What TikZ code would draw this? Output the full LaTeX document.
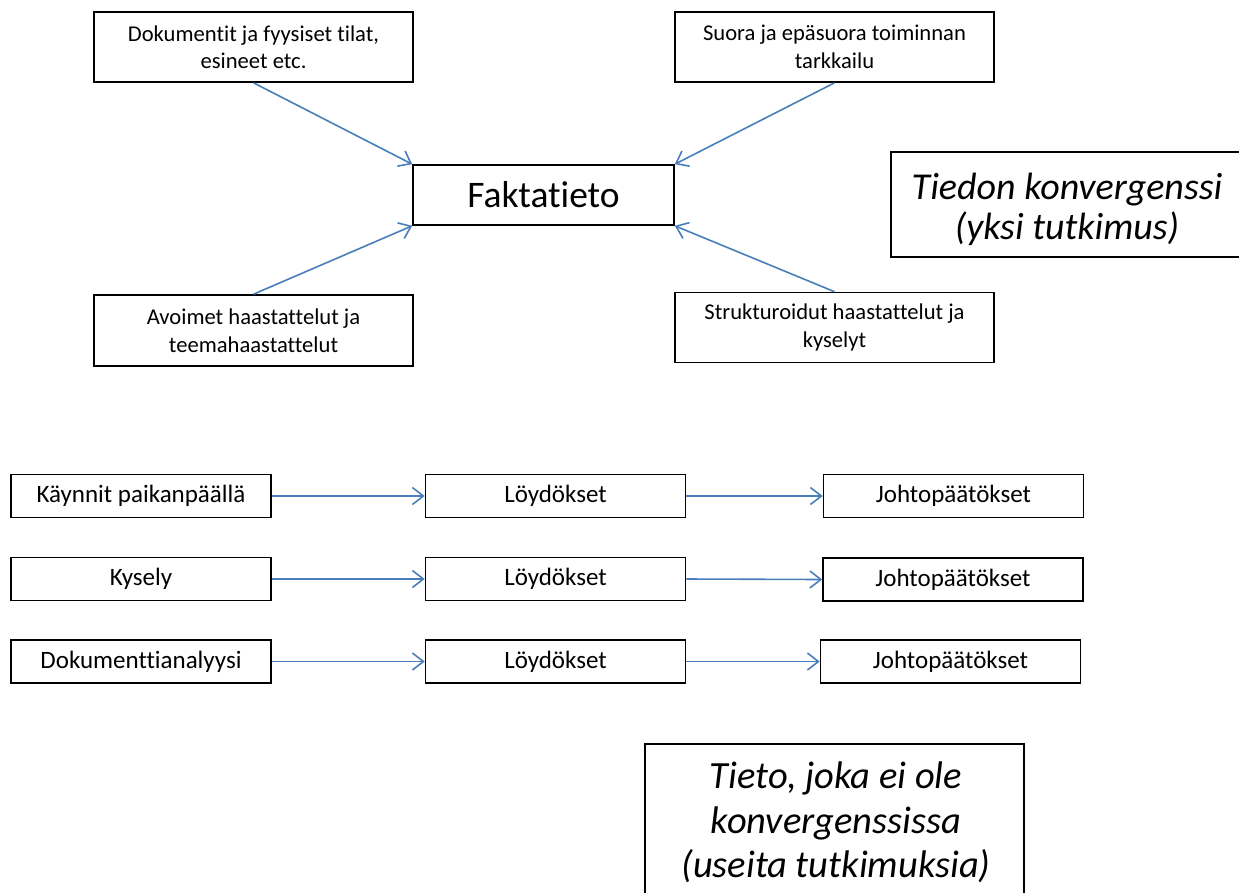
\documentclass[tikz,border=0pt]{standalone}
\usepackage{fontspec}
\setmainfont{Carlito}[Ligatures={NoCommon}]
\usetikzlibrary{arrows.meta}
\definecolor{linkblue}{RGB}{74,126,187}
\newcommand{\smalltxt}{\fontsize{22.6}{27.5}\selectfont}
\newcommand{\rowtxt}{\fontsize{25}{30}\selectfont}
\newcommand{\bigtxt}{\fontsize{37.5}{42}\selectfont}
\newcommand{\notetxt}{\fontsize{38}{40}\selectfont\itshape}
\newcommand{\notetxtb}{\fontsize{38.5}{44.5}\selectfont\itshape}
\begin{document}
\begin{tikzpicture}[x=1pt,y=-1pt,
  box/.style={draw=black, line width=1.6pt, inner sep=0pt, align=center, fill=white},
  srcbox/.style={box, minimum width=319pt, minimum height=70pt, font=\smalltxt},
  rowbox/.style={box, minimum width=260pt, minimum height=43pt, font=\rowtxt},
  notetext/.style={align=center, inner sep=0pt},
  link/.style={draw=linkblue, line width=1.6pt,
    -{Straight Barb[length=11pt,width=17pt,line width=1.6pt]}},
  ]
\useasboundingbox (0,0) rectangle (1239,892);
\clip (0,0) rectangle (1239,892);

% upper part: four sources converging on one fact
\node[box, minimum width=261pt, minimum height=60pt, font=\bigtxt] (fakta) at (543.5,195) {Faktatieto};
\node[srcbox] (tl) at (253.5,47) {Dokumentit ja fyysiset tilat,\\esineet etc.};
\node[srcbox] (tr) at (834.5,47) {Suora ja epäsuora toiminnan\\tarkkailu};
\node[srcbox, minimum height=71pt] (bl) at (253.5,330.5) {Avoimet haastattelut ja\\teemahaastattelut};
\node[srcbox] (br) at (834.5,327.5) {Strukturoidut haastattelut ja\\kyselyt};

\draw[link] (tl.south) -- (fakta.north west);
\draw[link] (tr.south) -- (fakta.north east);
\draw[link] (bl.north) -- (fakta.south west);
\draw[link] (br.north) -- (fakta.south east);

\node[box, minimum width=352pt, minimum height=105pt] (conv) at (1067,204.5) {};
\node[notetext, font=\notetxt] (convtxt) at (1067,209) {Tiedon konvergenssi\\(yksi tutkimus)};

% lower part: three separate studies
\node[rowbox] (s1) at (141,496) {Käynnit paikanpäällä};
\node[rowbox] (f1) at (555.5,496) {Löydökset};
\node[rowbox] (c1) at (953.5,496) {Johtopäätökset};
\node[rowbox] (s2) at (141,579) {Kysely};
\node[rowbox] (f2) at (555.5,579) {Löydökset};
\node[rowbox] (c2) at (953,579.5) {Johtopäätökset};
\node[rowbox] (s3) at (141,661.5) {Dokumenttianalyysi};
\node[rowbox] (f3) at (555.5,661.5) {Löydökset};
\node[rowbox] (c3) at (950.5,661.5) {Johtopäätökset};

\draw[link] (s1.east) -- (f1.west);
\draw[link] (f1.east) -- (c1.west);
\draw[link] (s2.east) -- (f2.west);
\draw[link] (f2.east) -- (c2.west);
\draw[link] (s3.east) -- (f3.west);
\draw[link] (f3.east) -- (c3.west);

\node[box, minimum width=379pt, minimum height=170pt, anchor=north] (div) at (834.5,743) {};
\node[notetext, font=\notetxtb] (divtxt) at (836,822.5) {Tieto, joka ei ole\\konvergenssissa\\(useita tutkimuksia)};
\end{tikzpicture}
\end{document}
